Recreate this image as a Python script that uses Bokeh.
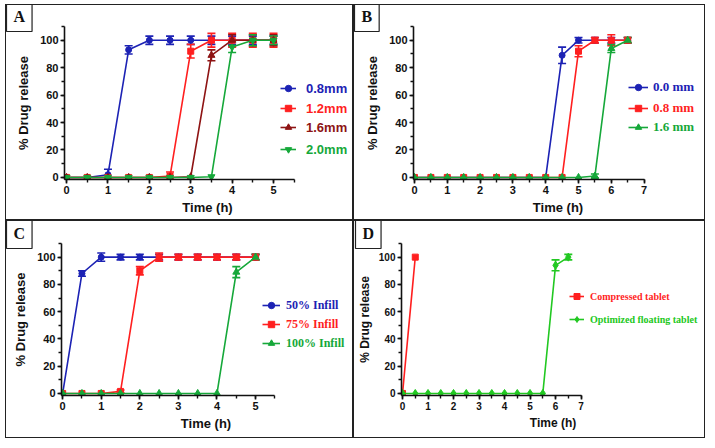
from bokeh.plotting import figure
from bokeh.models import (ColumnDataSource, Whisker, TeeHead, Legend, LegendItem, Title,
                          SingleIntervalTicker, Range1d)
from bokeh.layouts import column, row
from bokeh.embed import file_html
from bokeh.resources import INLINE

# ---------------- data ----------------
# Panel A: wall thickness
a_time = [0, 0.5, 1, 1.5, 2, 2.5, 3, 3.5, 4, 4.5, 5]
a_labels = ["0.8mm", "1.2mm", "1.6mm", "2.0mm"]
a_08 = [0, 0, 2, 93, 100, 100, 100, 100, 100, 100, 100]
a_08_sd = [0, 0, 4, 3, 3, 3, 3, 3, 3, 3, 3]
a_12 = [0, 0, 0, 0, 0, 1, 92, 100, 100, 100, 100]
a_12_sd = [0, 0, 0, 0, 0, 3, 5, 5, 5, 5, 5]
a_16 = [0, 0, 0, 0, 0, 0, 0.5, 89, 100, 100, 100]
a_16_sd = [0, 0, 0, 0, 0, 0, 0, 4, 4, 4, 4]
a_20 = [0, 0, 0, 0, 0, 0, 0, 0.5, 95, 100, 100]
a_20_sd = [0, 0, 0, 0, 0, 0, 0, 0, 4, 4, 3]

# Panel B: cap thickness
b_time = [0, 0.5, 1, 1.5, 2, 2.5, 3, 3.5, 4, 4.5, 5, 5.5, 6, 6.5]
b_labels = ["0.0 mm", "0.8 mm", "1.6 mm"]
b_00 = [0, 0, 0, 0, 0, 0, 0, 0, 0, 89, 100, 100, 100, 100]
b_00_sd = [0, 0, 0, 0, 0, 0, 0, 0, 0, 6, 2, 2, 2, 2]
b_08 = [0, 0, 0, 0, 0, 0, 0, 0, 0, 0, 92, 100, 100, 100]
b_08_sd = [0, 0, 0, 0, 0, 0, 0, 0, 0, 0, 4, 2, 4, 2]
b_16 = [0, 0, 0, 0, 0, 0, 0, 0, 0, 0, 0, 1, 94, 100]
b_16_sd = [0, 0, 0, 0, 0, 0, 0, 0, 0, 0, 0, 1.5, 3, 2]

# Panel C: infill
c_time = [0, 0.5, 1, 1.5, 2, 2.5, 3, 3.5, 4, 4.5, 5]
c_labels = ["50% Infill", "75% Infill", "100% Infill"]
c_50 = [0, 88, 100, 100, 100, 100, 100, 100, 100, 100, 100]
c_50_sd = [0, 2, 3, 2, 2, 2, 2, 2, 2, 2, 2]
c_75 = [0, 0, 0, 1.5, 90, 100, 100, 100, 100, 100, 100]
c_75_sd = [0, 0, 0, 1, 3, 3, 2, 2, 2, 2, 2]
c_100 = [0, 0, 0, 0, 0, 0, 0, 0, 0, 89, 100]
c_100_sd = [0, 0, 0, 0, 0, 0, 0, 0, 0, 4, 2]

# Panel D: compressed vs floating
d_labels = ["Compressed tablet", "Optimized floating tablet"]
d_comp_time = [0, 0.5]
d_comp = [0, 100]
d_comp_sd = [0, 0]
d_opt_time = [0, 0.5, 1, 1.5, 2, 2.5, 3, 3.5, 4, 4.5, 5, 5.5, 6, 6.5]
d_opt = [0, 0, 0, 0, 0, 0, 0, 0, 0, 0, 0, 0, 94, 100]
d_opt_sd = [0, 0, 0, 0, 0, 0, 0, 0, 0, 0, 0, 0, 4, 2]

x_title = "Time (h)"
y_title = "% Drug release"

# ---------------- styles ----------------
BLUE = "#1c22b4"
RED = "#ff1f1f"
DRED = "#8e1414"
GREEN = "#16a83a"
LGREEN = "#22c822"
SANS = "Liberation Sans"
SERIF = "Liberation Serif"


def make_panel(letter, series, width, height, mbl, mbr, mbt, mbb, xr, x_axis_end,
               leg_x, leg_bottoms, leg_gw, leg_standoff, leg_font, leg_size,
               tick_size="11px", title_size="13px", y_standoff=6, x_standoff=3):
    p = figure(width=width, height=height, output_backend="svg", toolbar_location=None,
               x_range=Range1d(*xr), y_range=Range1d(-1.5, 110),
               min_border_left=mbl, min_border_right=mbr, min_border_top=mbt,
               min_border_bottom=mbb, styles={"border": "1px solid #222"})
    p.outline_line_color = None
    p.grid.visible = False
    p.background_fill_color = "white"
    p.border_fill_color = "white"

    p.xaxis.ticker = SingleIntervalTicker(interval=1, num_minor_ticks=2)
    p.yaxis.ticker = SingleIntervalTicker(interval=20, num_minor_ticks=2)
    p.xaxis.bounds = (xr[0], x_axis_end)
    p.yaxis.bounds = (-1.5, 110)
    for ax in (p.xaxis[0], p.yaxis[0]):
        ax.axis_line_width = 1.6
        ax.axis_line_color = "#111"
        ax.major_tick_line_width = 1.6
        ax.minor_tick_line_width = 1.4
        ax.major_tick_line_color = "#111"
        ax.minor_tick_line_color = "#111"
        ax.major_tick_out = 4
        ax.major_tick_in = 0
        ax.minor_tick_out = 3
        ax.minor_tick_in = 0
        ax.major_label_text_font = SANS
        ax.major_label_text_font_style = "bold"
        ax.major_label_text_font_size = tick_size
        ax.major_label_text_color = "#111"
        ax.major_label_standoff = 2
        ax.axis_label_text_font = SANS
        ax.axis_label_text_font_style = "bold"
        ax.axis_label_text_font_size = title_size
        ax.axis_label_text_color = "#111"
    p.xaxis.axis_label = x_title
    p.yaxis.axis_label = y_title
    p.xaxis.axis_label_standoff = x_standoff
    p.yaxis.axis_label_standoff = y_standoff

    for i, (label, t, m, sd, color, marker, msize, tcolor) in enumerate(series):
        src = ColumnDataSource(dict(t=t, m=m))
        ln = p.line("t", "m", source=src, line_color=color, line_width=1.6)
        sc = p.scatter("t", "m", source=src, marker=marker, size=msize,
                       fill_color=color, line_color=color)
        et = [tt for tt, s in zip(t, sd) if s > 0]
        eu = [mm + s for mm, s in zip(m, sd) if s > 0]
        el = [mm - s for mm, s in zip(m, sd) if s > 0]
        if et:
            esrc = ColumnDataSource(dict(t=et, up=eu, lo=el))
            w = Whisker(base="t", upper="up", lower="lo", source=esrc,
                        line_color=color, line_width=1.6,
                        upper_head=TeeHead(size=8, line_color=color, line_width=1.6),
                        lower_head=TeeHead(size=8, line_color=color, line_width=1.6))
            p.add_layout(w)
        leg = Legend(items=[LegendItem(label=label, renderers=[ln, sc])],
                     location=(leg_x, leg_bottoms[i]), padding=0, margin=0, spacing=0,
                     glyph_width=leg_gw, glyph_height=16, label_height=16,
                     label_standoff=leg_standoff, label_text_font=leg_font,
                     label_text_font_style="bold", label_text_font_size=leg_size,
                     label_text_color=tcolor, border_line_alpha=0,
                     background_fill_alpha=0)
        p.add_layout(leg)

    ttl = Title(text=letter, align="left", vertical_align="top", offset=-mbl,
                standoff=-14, text_font=SERIF, text_font_style="bold",
                text_font_size="16px", text_color="#111",
                border_line_color="#222", border_line_width=1.2,
                background_fill_color="white", padding=7)
    p.add_layout(ttl, "above")
    return p


pA = make_panel("A", [
    (a_labels[0], a_time, a_08, a_08_sd, BLUE, "circle", 6, BLUE),
    (a_labels[1], a_time, a_12, a_12_sd, RED, "square", 6, RED),
    (a_labels[2], a_time, a_16, a_16_sd, DRED, "triangle", 7, DRED),
    (a_labels[3], a_time, a_20, a_20_sd, GREEN, "inverted_triangle", 7, GREEN),
], 348, 216, 58, 4, 21, 42, (-0.05, 6.86), 5.5,
    216, [83, 63, 44, 22], 16, 10, SANS, "13px")

pB = make_panel("B", [
    (b_labels[0], b_time, b_00, b_00_sd, BLUE, "circle", 6, BLUE),
    (b_labels[1], b_time, b_08, b_08_sd, RED, "square", 6, RED),
    (b_labels[2], b_time, b_16, b_16_sd, GREEN, "triangle", 7, GREEN),
], 352, 216, 59, 4, 21, 42, (-0.03, 8.78), 7,
    215, [84, 63, 44], 20, 5, SERIF, "13px")

pC = make_panel("C", [
    (c_labels[0], c_time, c_50, c_50_sd, BLUE, "circle", 6, BLUE),
    (c_labels[1], c_time, c_75, c_75_sd, RED, "square", 6, RED),
    (c_labels[2], c_time, c_100, c_100_sd, GREEN, "triangle", 7, GREEN),
], 348, 218, 55, 4, 22, 44, (-0.03, 7.46), 5.5,
    201, [82, 63, 44], 18, 6, SERIF, "12px")

pD = make_panel("D", [
    (d_labels[0], d_comp_time, d_comp, d_comp_sd, RED, "square", 6, RED),
    (d_labels[1], d_opt_time, d_opt, d_opt_sd, LGREEN, "diamond", 8, LGREEN),
], 352, 218, 46, 2, 22, 44, (-0.04, 11.84), 7,
    168, [91, 68], 15, 6, SERIF, "10px", tick_size="10px", title_size="12px",
    y_standoff=4, x_standoff=3)

layout = column(row(pA, pB), row(pC, pD), margin=(4, 0, 0, 5))

open("out.html", "w").write(file_html(layout, INLINE))
